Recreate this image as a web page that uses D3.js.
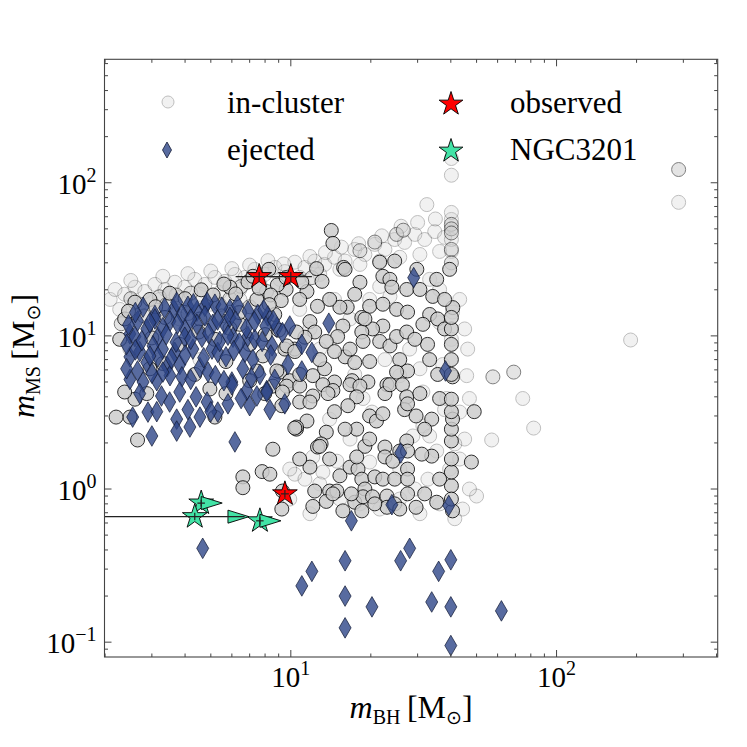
<!DOCTYPE html>
<html>
<head>
<meta charset="utf-8">
<script src="https://cdn.jsdelivr.net/npm/d3@7"></script>
<style>
  body { margin: 0; background: #fff; }
  svg text { font-family: "Liberation Serif", "DejaVu Serif", serif; fill: #000; }
</style>
</head>
<body>
<svg id="chart"></svg>
<script>
// in-cluster binaries [mBH, mMS], split by how faint they are drawn
const inClusterFaint = [
  [2.09,17.3],[2.18,20.1],[2.37,18.7],[2.59,20.8],[2.82,19.5],[3.08,21.7],[3.36,20.1],[3.66,22.4],
  [3.99,20.8],[4.35,23.4],[4.75,21.7],[5.18,24.1],[5.65,22.7],[6.16,25.2],[6.72,24.1],[7.32,27.2],
  [7.98,25.2],[8.71,28],[9.49,26.3],[10.35,30.3],[11.3,28],[12.3,30.8],[13.4,29.3],[14.6,32.6],
  [16,30.8],[17.4,36.7],[19,34],[20.7,39.6],[22.6,36.7],[24.6,42.6],[26.8,40.8],[29.3,46],
  [31.9,42.6],[34.8,48],[37.9,44],[40.2,57.6],[40.2,64],[32.5,72],[40.2,35.6],[40.2,42.6],
  [2.27,14.9],[2.7,16.1],[3.21,17.3],[3.82,17.8],[4.55,18.7],[5.41,19.2],[6.43,20.1],[7.65,21.7],
  [9.09,23.4],[10.8,24.1],[12.85,25.2],[15.3,27.2],[18.2,29.3],[21.6,30.8],[25.7,32.6],[30.6,34],
  [36.3,35.6],[21.6,21],[19.8,17.3],[23.6,18.1],[40.6,14.3],[40.2,9.5],[36.3,12.2],[45.9,5.5],
  [37.3,6.5],[25.7,5.5],[10.35,1.25],[12.1,1.62],[14.9,1.52],[13.2,1.29],[19.8,1.5],[32.8,1.16],
  [35.4,1.77],[31.4,2.58],[33.3,2.22],[37.9,3.3],[43.2,3.18],[44.3,0.74],[50,0.9],[38.6,3.9],
  [18.7,3.9],[31.4,4.3],[20.2,3.18],[28.8,2.22],[9.91,1.35],[11.3,1.16],[12.85,1.08],[15.3,0.86],
  [18.2,0.8],[21.6,0.74],[25.7,0.86],[30.6,0.69],[36.3,0.8],[41.4,0.64],[47,1.0],[43.2,1.57],
  [45.1,2.12],[47,3.9],[46.3,8.2],[33.3,23.4],[36.3,20.1],[43.2,17.3],[45.1,11.1],[16.7,12.9],
  [14.6,17.3],[11.8,11.1],[10.8,14.9],[8.34,12.9],[6.43,17.3],[4.96,16.1],[3.82,12.9],[2.95,11.1],
  [2.48,8.2],[3.21,7.0],[4.55,7.0],[7.65,9.5],[9.09,7.0],[12.85,8.2],[17.4,5.6],[22.6,7.0],
  [28,8.2],[30.6,6.1],[14,2.86],[16.7,2.12],[25.7,1.35],[29.3,1.0],[39.6,1.35],[41.4,1.97],
  [9.91,0.86],[11.8,0.69],[288,74.5],[190,9.4],[74.6,3.9],[82,2.5],[57,2.09],[40.2,144],[40.2,112],
  [2.5,23],[3.3,24.5],[4.1,25.5],[5.0,26.5],[6.0,27.5],[7.0,29],[8.2,31],[9.4,29.5],
  [11.8,33],[13.5,35],[15.5,38],[18,40],[22,45],[26,52],[30,55],[35,58]
];

const inClusterMid = [
  [288,122],[57.6,5.4],[69,5.8],[40.2,53.5],[40.2,50],[40.2,47],[40.2,36.7],[40.2,30],
  [25,46],[26.5,49],[20.7,41],[18.2,36],[12,24],[6.5,21],[4.2,19],[3.2,18],[5.4,16],[7,15.5],
  [2.3,12],[2.8,13.5],[3.4,16],[4.1,14],[5.5,13.5],[2.5,17.5],[3.7,18.5],[5.9,17.5],[8.1,19.5]
];

const inClusterSolid = [
  [14.2,48.8],[14.4,40.2],[15.8,28],[13.1,22.7],[11.5,19.5],[9.6,20.1],[12.6,15.6],[11.8,12.4],
  [16.3,15.4],[18.2,22.4],[18.5,13.2],[19.8,15.6],[21.6,30.3],[22.2,24.5],[23.6,23.4],[24,20.8],
  [22.2,16.1],[25,14.9],[27.5,14.3],[27.3,20.1],[29.8,27.2],[34.2,18.1],[35.4,23.4],[33.3,13.8],
  [35.7,12.9],[31.4,11.9],[40.7,15.3],[22.2,11.6],[20.3,11.1],[18.5,10.6],[15.7,11.6],[15,9.9],
  [13.6,9.2],[12.3,10.6],[11.3,9.8],[10.35,8.2],[9.5,8.2],[9.1,5.8],[9.9,5.1],[12.1,5.5],
  [13.4,6.1],[14.6,5.0],[16,7.3],[17.4,6.7],[19.8,6.8],[21.6,9.2],[23.6,8.6],[25,9.9],
  [27.3,10.6],[25.7,7.0],[27.5,5.9],[25,5.8],[23,4.8],[19.5,5.0],[17,5.1],[32.7,8.8],
  [40.2,8.8],[40.2,7.0],[40.6,5.4],[35.7,5.6],[16.7,8.2],[18.7,9.2],[9.65,4.7],[10.8,4.7],
  [12.1,4.05],[10.8,3.7],[11.8,3.7],[10.5,2.46],[11.5,2.78],[13.2,4.8],[14.4,4.4],[13.8,4.2],
  [14.6,3.2],[16.7,4.8],[18.2,4.7],[17.7,4.0],[16.4,3.5],[19.8,3.0],[21,2.78],[22.2,3.1],
  [22.6,4.2],[23.6,4.8],[26.3,4.8],[27.3,4.0],[26.8,3.3],[29.6,3.0],[33.9,2.86],[27.5,3.6],
  [17.7,2.46],[13.6,2.35],[13,1.97],[12.6,1.88],[19,1.9],[22.6,1.88],[22.6,1.62],[24.2,1.52],
  [27.5,1.35],[11.8,1.39],[15.3,1.22],[16.7,1.39],[17.9,1.35],[18.5,1.16],[20.7,1.2],[22.2,1.16],
  [24.6,1.16],[27.5,1.16],[19,1.0],[12.3,0.97],[14,0.97],[14.9,0.97],[13.6,0.83],[17.4,0.82],
  [18.7,0.89],[20.3,0.89],[23,0.9],[27.5,0.93],[12.1,0.77],[18.5,0.72],[23,0.76],[24.6,0.8],
  [29.6,0.76],[35.4,0.82],[40.6,0.72],[40.2,1.05],[40.2,1.29],[40.2,1.57],[40.2,2.06],[40.2,2.46],
  [40.6,2.86],[40.2,3.2],[33.9,1.64],[31.1,1.69],[27.3,2.06],[25.7,1.77],[27.5,1.77],[49,3.2],
  [47.8,1.5],[17.7,1.62],[14.4,0.93],[9.25,0.74],[2.48,2.95],[2.65,2.09],[2.59,3.86],[2.87,4.2],
  [5.18,2.95],[5.7,4.2],[8.56,4.7],[9.3,4.3],[8.86,5.9],[9.25,3.5],[10.5,2.54],[8.56,1.82],
  [7.45,5.9],[7.85,7.4],[9.65,8.6],[10.5,10.6],[5.7,6.8],[7.0,5.1],[10.35,7.9],[6.6,1.2],
  [6.6,1.02],[7.8,1.3],[8.34,1.25],[9.3,0.97],[10.35,2.5],[12.85,1.9],[2.59,16.6],[2.95,17.3],
  [5.9,20.8],[7.45,17.3],[8.27,27.2],[8.9,21.5],[10.8,17.3],[15.3,15.4],[16,27.2],[2.27,9.5],
  [2.37,12.9],[3.36,13.2],[4.55,12.9],[6.43,11.9],[8.7,13.8],[3.82,8.8],[5.18,9.5],[7.0,8.8],
  [2.95,6.1],[4.35,5.6],[2.37,4.3],[4.96,4.5],[7.98,4.2],[2.2,2.95],[10.8,5.6],[12.85,7.0],
  [14.6,7.9],[14,17.3],[17.4,18.7],[24.6,30.8],[30.6,20.1],[37.9,17.3],[39.6,27.2],[19,12.9],
  [29.3,9.5],[33.3,7.0],[37.9,11.1],[30.6,4.2],[36.3,3.9],[31.9,2.46],[36.3,1.16],[40.2,0.86],
  [31.9,0.93],[16,2.46],[19.8,2.12],[10.8,1.57],[14,1.57],[16.9,0.93],[20.7,0.8],[15.7,0.72],
  [25.7,0.74],[40.2,3.86],[40.2,5.6],[40.2,11.1],[40.2,13.2],
  [2.45,14.5],[3.1,15.5],[3.5,19],[4.0,17.5],[4.6,20],[5.1,18.5],[5.6,21.8],[6.2,18.8],
  [6.9,22.5],[7.6,20.5],[8.4,18.5],[9.2,17.0],[7.2,24.5],[9.6,24.0],[11,22.5],[12.5,27.5],
  [6.4,14.2],[8.0,10.2],[9.0,10.9],[8.3,16.0],[3.0,9.7],[4.5,10.6],[5.9,11.2],[3.3,6.6]
];

// ejected binaries [mBH, mMS]
const ejected = [
  [2.78,15.4],[3.08,13.6],[3.63,14.9],[4.1,15.6],[4.75,15.6],[5.18,16.1],[5.9,14.9],[7.51,13.8],
  [8.19,13.5],[9.91,11.6],[13.9,12.1],[3.72,16.6],[4.43,14.5],[4.84,16.6],[2.65,12.5],[3.08,12.9],
  [3.51,12.5],[3.99,11.1],[4.43,11.9],[4.75,13.5],[5.09,11.9],[5.65,11.9],[8.05,11.6],[8.86,11.4],
  [2.48,10.3],[2.59,9.9],[2.87,11.1],[3.16,9.8],[3.99,9.8],[4.63,9.8],[6.06,9.8],[6.89,9.9],
  [7.32,9.5],[2.48,7.3],[2.7,7.9],[3.03,8.6],[3.29,8.2],[3.66,7.8],[4.28,8.2],[5.05,8.2],
  [5.31,7.8],[6.72,7.8],[9.75,6.5],[2.87,6.7],[3.16,7.3],[3.43,6.3],[3.82,6.5],[4.55,6.2],
  [4.88,5.8],[6.6,6.1],[7.65,5.6],[2.48,5.2],[2.78,5.0],[3.13,5.1],[3.51,5.5],[3.89,5.4],
  [6.0,5.0],[6.83,4.4],[7.45,4.05],[8.12,4.4],[3.26,4.05],[3.82,4.3],[4.84,3.7],[5.31,3.18],
  [4.1,3.3],[4.55,2.95],[3.72,2.86],[2.9,3.18],[2.54,2.95],[9.49,3.6],[8.34,3.3],[3.72,2.39],
  [3.0,2.22],[4.17,2.54],[6.16,2.03],[3.13,3.2],[6.0,4.8],[8.12,4.3],[11,8.8],[12,7.8],
  [11,5.9],[29,24],[38.2,5.9],[2.41,8.8],[2.41,6.1],
  [2.6,14.2],[3.35,15.2],[3.9,13.8],[4.3,16.2],[5.5,15.4],[6.3,15.8],[6.9,14.5],[7.9,14.8],
  [5.9,13.2],[2.45,11.8],[2.95,12.2],[3.3,11.3],[3.75,12.0],[4.2,12.9],[5.3,12.7],[6.2,12.5],
  [6.8,11.2],[7.3,12.4],[8.6,12.6],[9.3,10.5],[2.75,9.3],[3.4,10.2],[3.7,9.1],[4.2,9.5],
  [4.9,10.4],[5.4,9.2],[5.8,10.1],[6.4,9.0],[7.8,9.2],[8.5,8.6],[2.6,8.1],[2.95,7.4],
  [3.55,7.1],[4.0,7.5],[4.7,7.2],[5.7,7.3],[6.1,8.0],[7.2,7.0],[8.4,7.5],[2.65,5.9],
  [3.0,5.7],[3.3,5.8],[4.2,5.2],[5.2,5.5],[5.6,5.1],[7.1,5.3],[8.7,5.2],[2.7,4.2],
  [3.5,3.7],[4.4,4.0],[5.0,3.2],[5.8,3.6],[6.5,3.9],[7.0,3.5],
  [4.66,0.41],[16,0.34],[12,0.29],[11,0.233],[16,0.2],[20.2,0.17],[16,0.124],[16.9,0.62],
  [25.9,1.72],[24,0.79],[39.3,0.78],[28,0.41],[25.9,0.34],[36,0.29],[40,0.345],[33.9,0.183],
  [40,0.17],[62,0.16],[40,0.095]
];

// observed systems with error bars
const obsMBH = [7.6, 10.0, 9.5];
const obsMMS = [24.4, 24.4, 0.93];
const obsMBHLo = [6.2, 8.3, 9.17];
const obsMBHHi = [9.1, 12.0, 9.83];
const obsMMSLo = [22.8, 22.8, 0.877];
const obsMMSHi = [26.1, 26.1, 0.986];

// NGC3201 systems, mBH lower limits marked by arrow heads
const ngcMBH = [4.6, 4.35, 7.65];
const ngcMMS = [0.81, 0.66, 0.62];
const ngcMBHLo = [4.45, 1.5, 7.4];
const ngcMBHHi = [4.75, 6.7, 7.9];
const ngcMMSLo = [0.77, 0.625, 0.585];
const ngcMMSHi = [0.85, 0.70, 0.655];
const ngcLimitMBH = [4.6, 5.8, 7.65];

const xMajorTicks = [10, 100];
const yMajorTicks = [0.1, 1, 10, 100];
const xExponents = ['1', '2'];
const yExponents = ['\u22121', '0', '1', '2'];

const legendLabels = ['in-cluster', 'ejected', 'observed', 'NGC3201'];

class MassScatter {

    constructor(_config) {
        this.config = {
            parentElement: _config.parentElement,
            containerWidth: 747,
            containerHeight: 747,
            margin: {top: 59.3, right: 29.3, bottom: 90, left: 104.5}
        };
        this.initVis();
    }

    initVis() {
        let vis = this;
        vis.width = vis.config.containerWidth - vis.config.margin.left - vis.config.margin.right;
        vis.height = vis.config.containerHeight - vis.config.margin.top - vis.config.margin.bottom;

        vis.svg = d3.select(vis.config.parentElement)
            .attr('width', vis.config.containerWidth)
            .attr('height', vis.config.containerHeight);

        vis.chart = vis.svg.append('g')
            .attr('transform', `translate(${vis.config.margin.left},${vis.config.margin.top})`);

        vis.svg.append('defs').append('clipPath').attr('id', 'plot-clip')
            .append('rect').attr('width', vis.width).attr('height', vis.height);

        vis.xScale = d3.scaleLog().domain([1.99, 404]).range([0, vis.width]);
        vis.yScale = d3.scaleLog().domain([0.08, 640]).range([vis.height, 0]);

        vis.renderVis();
    }

    starPath(r) {
        return d3.symbol(d3.symbolStar, r * r / 0.8908130915292852)();
    }

    renderVis() {
        let vis = this;
        const x = vis.xScale, y = vis.yScale;
        const plot = vis.chart.append('g').attr('clip-path', 'url(#plot-clip)');

        // in-cluster circles
        const layers = [
            {data: inClusterFaint, op: 0.25},
            {data: inClusterMid, op: 0.5},
            {data: inClusterSolid, op: 0.82}
        ];
        layers.forEach(l => {
            plot.append('g').selectAll('circle')
                .data(l.data)
                .join('circle')
                .attr('cx', d => x(d[0]))
                .attr('cy', d => y(d[1]))
                .attr('r', 7)
                .attr('fill', '#cbcbcb')
                .attr('stroke', '#000')
                .attr('stroke-width', 1)
                .attr('opacity', l.op);
        });

        // ejected diamonds
        const diamond = 'M0,-10.3L6,0L0,10.3L-6,0Z';
        plot.append('g').selectAll('path')
            .data(ejected)
            .join('path')
            .attr('d', diamond)
            .attr('transform', d => `translate(${x(d[0])},${y(d[1])})`)
            .attr('fill', '#2e4688')
            .attr('fill-opacity', 0.8)
            .attr('stroke', '#141c36')
            .attr('stroke-opacity', 0.8)
            .attr('stroke-width', 0.9);

        // observed stars
        plot.append('g').selectAll('path')
            .data(obsMBH)
            .join('path')
            .attr('d', vis.starPath(13))
            .attr('transform', (d, i) => `translate(${x(d)},${y(obsMMS[i])})`)
            .attr('fill', '#ff0000')
            .attr('stroke', '#000')
            .attr('stroke-width', 0.9);

        // NGC3201 stars
        plot.append('g').selectAll('path')
            .data(ngcMBH)
            .join('path')
            .attr('d', vis.starPath(13))
            .attr('transform', (d, i) => `translate(${x(d)},${y(ngcMMS[i])})`)
            .attr('fill', '#42e3a6')
            .attr('stroke', '#000')
            .attr('stroke-width', 0.9);

        // lower limit arrow heads
        plot.append('g').selectAll('path')
            .data(ngcLimitMBH)
            .join('path')
            .attr('d', 'M0,-6.5L21,0L0,6.5Z')
            .attr('transform', (d, i) => `translate(${x(d)},${y(ngcMMS[i])})`)
            .attr('fill', '#42e3a6')
            .attr('stroke', '#000')
            .attr('stroke-width', 0.9);

        // error bars
        const bars = plot.append('g').attr('stroke', '#222').attr('stroke-width', 1.2);
        const drawBars = (xs, ys, xlo, xhi, ylo, yhi) => {
            xs.forEach((d, i) => {
                bars.append('line').attr('x1', x(xlo[i])).attr('x2', x(xhi[i]))
                    .attr('y1', y(ys[i])).attr('y2', y(ys[i]));
                bars.append('line').attr('x1', x(d)).attr('x2', x(d))
                    .attr('y1', y(ylo[i])).attr('y2', y(yhi[i]));
            });
        };
        drawBars(obsMBH, obsMMS, obsMBHLo, obsMBHHi, obsMMSLo, obsMMSHi);
        drawBars(ngcMBH, ngcMMS, ngcMBHLo, ngcMBHHi, ngcMMSLo, ngcMMSHi);

        // frame and ticks
        vis.chart.append('rect')
            .attr('width', vis.width).attr('height', vis.height)
            .attr('fill', 'none').attr('stroke', '#444').attr('stroke-width', 1.1);

        const ticks = vis.chart.append('g').attr('stroke', '#444').attr('stroke-width', 1);
        const xMinor = [];
        const yMinor = [];
        [1, 10, 100].forEach(dec => {
            for (let k = 2; k <= 9; k++) {
                const v = dec * k;
                if (v > 1.99 && v < 404) xMinor.push(v);
            }
        });
        [0.01, 0.1, 1, 10, 100].forEach(dec => {
            for (let k = 2; k <= 9; k++) {
                const v = dec * k;
                if (v > 0.08 && v < 640) yMinor.push(v);
            }
        });
        const xTick = (v, len) => {
            ticks.append('line').attr('x1', x(v)).attr('x2', x(v)).attr('y1', vis.height).attr('y2', vis.height - len);
            ticks.append('line').attr('x1', x(v)).attr('x2', x(v)).attr('y1', 0).attr('y2', len);
        };
        const yTick = (v, len) => {
            ticks.append('line').attr('y1', y(v)).attr('y2', y(v)).attr('x1', 0).attr('x2', len);
            ticks.append('line').attr('y1', y(v)).attr('y2', y(v)).attr('x1', vis.width).attr('x2', vis.width - len);
        };
        xMajorTicks.forEach(v => xTick(v, 7));
        xMinor.forEach(v => xTick(v, 3.5));
        yMajorTicks.forEach(v => yTick(v, 7));
        yMinor.forEach(v => yTick(v, 3.5));

        // tick labels
        xMajorTicks.forEach((v, i) => {
            const t = vis.chart.append('text')
                .attr('x', x(v)).attr('y', vis.height + 30)
                .attr('text-anchor', 'middle')
                .style('font-size', '29px');
            t.append('tspan').text('10');
            t.append('tspan').attr('dy', -12).style('font-size', '20px').text(xExponents[i]);
        });
        yMajorTicks.forEach((v, i) => {
            const t = vis.chart.append('text')
                .attr('x', -8).attr('y', y(v) + 11)
                .attr('text-anchor', 'end')
                .style('font-size', '29px');
            t.append('tspan').text('10');
            t.append('tspan').attr('dy', -12).style('font-size', '20px').text(yExponents[i]);
        });

        // axis labels
        const axisLabel = (g, sub) => {
            g.append('tspan').style('font-style', 'italic').text('m');
            g.append('tspan').attr('dy', 6).style('font-size', '20px').text(sub);
            g.append('tspan').attr('dy', -6).text('\u2009[M');
            g.append('tspan').attr('dy', 6).style('font-size', '19px')
                .style('font-family', '"DejaVu Sans", sans-serif').text('\u2299');
            g.append('tspan').attr('dy', -6).text(']');
        };
        const xl = vis.svg.append('text')
            .attr('x', vis.config.margin.left + vis.width / 2).attr('y', 718)
            .attr('text-anchor', 'middle').style('font-size', '32px');
        axisLabel(xl, 'BH');
        const yl = vis.svg.append('text')
            .attr('transform', 'translate(34,356) rotate(-90)')
            .attr('text-anchor', 'middle').style('font-size', '32px');
        axisLabel(yl, 'MS');

        // legend
        const leg = vis.svg.append('g');
        leg.append('circle').attr('cx', 168).attr('cy', 102).attr('r', 6)
            .attr('fill', '#cbcbcb').attr('stroke', '#000').attr('opacity', 0.25);
        leg.append('path').attr('d', 'M0,-8L4.5,0L0,8L-4.5,0Z')
            .attr('transform', 'translate(167,150)')
            .attr('fill', '#2e4688').attr('fill-opacity', 0.8)
            .attr('stroke', '#141c36').attr('stroke-opacity', 0.8);
        leg.append('path').attr('d', vis.starPath(12.5))
            .attr('transform', 'translate(451,104)')
            .attr('fill', '#ff0000').attr('stroke', '#000').attr('stroke-width', 0.9);
        leg.append('path').attr('d', vis.starPath(12.5))
            .attr('transform', 'translate(451,151)')
            .attr('fill', '#42e3a6').attr('stroke', '#000').attr('stroke-width', 0.9);
        const legPos = [[227, 113], [227, 160], [510, 113], [510, 160]];
        leg.selectAll('text')
            .data(legendLabels)
            .join('text')
            .attr('x', (d, i) => legPos[i][0])
            .attr('y', (d, i) => legPos[i][1])
            .style('font-size', '31px')
            .text(d => d);
    }
}

new MassScatter({parentElement: '#chart'});
</script>
</body>
</html>
